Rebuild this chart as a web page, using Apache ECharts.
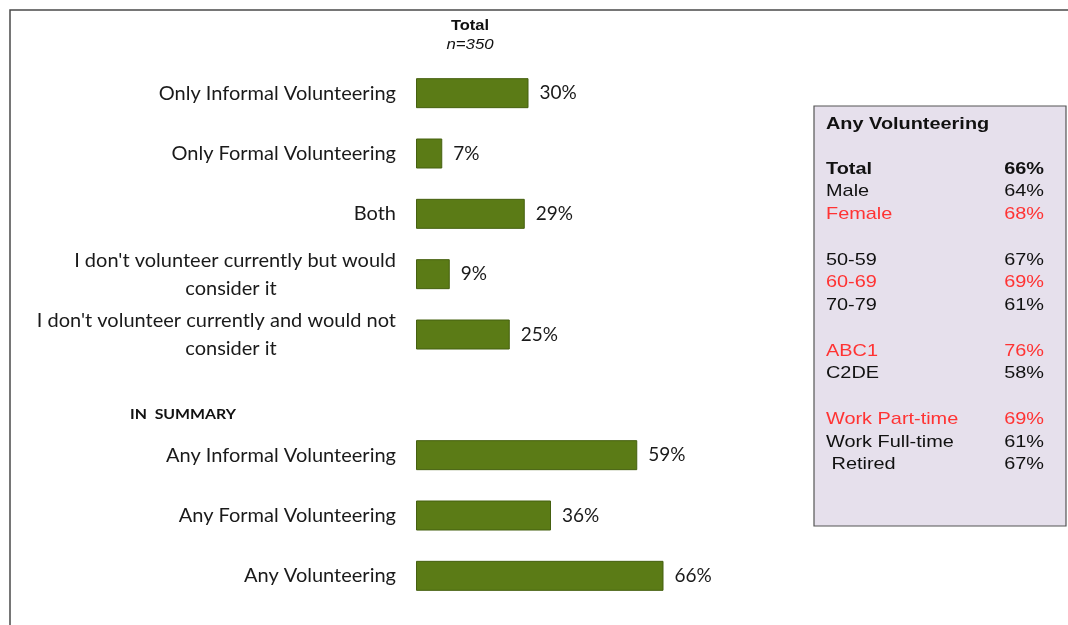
<!DOCTYPE html>
<html>
<head>
<meta charset="utf-8">
<script src="https://cdn.jsdelivr.net/npm/echarts@6/dist/echarts.min.js"></script>
<style>
  html, body { margin: 0; padding: 0; background: #ffffff; }
  #chart { width: 1068px; height: 625px; }
</style>
</head>
<body>
<div id="chart"></div>
<script>
// Survey categories (empty string = spacer row before the summary block)
const categories = [
  'Only Informal Volunteering',
  'Only Formal Volunteering',
  'Both',
  "I don't volunteer currently but would\nconsider it",
  "I don't volunteer currently and would not\nconsider it",
  '',
  'Any Informal Volunteering',
  'Any Formal Volunteering',
  'Any Volunteering'
];
const totals = [30, 7, 29, 9, 25, null, 59, 36, 66];

// Side panel: breakdown of "Any Volunteering"
const panelTitle = 'Any Volunteering';
const panelLabels = ['Total', 'Male', 'Female', '', '50-59', '60-69', '70-79', '', 'ABC1', 'C2DE', '', 'Work Part-time', 'Work Full-time', ' Retired'];
const panelValues = ['66%', '64%', '68%', '', '67%', '69%', '61%', '', '76%', '58%', '', '69%', '61%', '67%'];
const panelHighlight = [false, false, true, false, false, true, false, false, true, false, false, true, false, false];

const chart = echarts.init(document.getElementById('chart'));

// Two-line labels: second line centred under the first, block right-aligned
function catLabel(v) {
  if (!v) return '';
  const parts = v.split('\n');
  if (parts.length === 1) return v;
  const second = parts[0].length > 38 ? 'c' : 'b';
  return '{a|' + parts[0] + '}\n{' + second + '|' + parts[1] + '}';
}

// Wide-set text helper (panel and headings use a stretched face)
function wideText(x, y, text, font, fill, align, sx) {
  return {
    type: 'text', x: x, y: y, z: 5, scaleX: sx, originX: 0, originY: 0,
    style: { text: text, font: font, fill: fill, align: align, verticalAlign: 'middle' }
  };
}

const graphics = [];
// outer frame
graphics.push({
  type: 'rect', x: 10, y: 10, z: 0,
  shape: { x: 0, y: 0, width: 1100, height: 700 },
  style: { fill: 'none', stroke: '#4a4a4a', lineWidth: 1.5 }
});
// column header
graphics.push(wideText(470, 26, 'Total', 'bold 15px "Liberation Sans Narrow", "Liberation Sans", sans-serif', '#111', 'center', 1.1));
graphics.push(wideText(470, 45, 'n=350', 'italic 14px "Liberation Sans Narrow", "Liberation Sans", sans-serif', '#111', 'center', 1.2));
// summary heading
graphics.push(wideText(130, 415, 'IN  SUMMARY', 'bold 13px Lato, sans-serif', '#111', 'left', 1.22));
// side panel
graphics.push({
  type: 'rect', x: 814, y: 106, z: 1,
  shape: { x: 0, y: 0, width: 252, height: 420 },
  style: { fill: '#e6e0ec', stroke: '#555555', lineWidth: 1.2 }
});
const SX = 1.17;
graphics.push(wideText(826, 124, panelTitle, 'bold 17px "Liberation Sans", Arial, sans-serif', '#111', 'left', SX));
const rowStep = 22.75;
panelLabels.forEach((lab, i) => {
  if (!lab) return;
  const y = 169 + i * rowStep;
  const bold = i === 0;
  const col = panelHighlight[i] ? '#ff3333' : '#111';
  const font = (bold ? 'bold ' : '') + '17px "Liberation Sans", Arial, sans-serif';
  graphics.push(wideText(826, y, lab, font, col, 'left', SX));
  graphics.push(wideText(1044, y, panelValues[i], font, col, 'right', SX));
});

const labelFont = { fontSize: 20, fontFamily: 'Lato, sans-serif', color: '#1a1a1a', lineHeight: 28 };

chart.setOption({
  animation: false,
  grid: { left: 416, width: 375, top: 63, height: 543 },
  xAxis: { type: 'value', min: 0, max: 100, show: false },
  yAxis: {
    type: 'category',
    data: categories,
    inverse: true,
    axisLine: { show: false },
    axisTick: { show: false },
    splitLine: { show: false },
    axisLabel: Object.assign({
      margin: 20,
      formatter: catLabel,
      rich: {
        a: Object.assign({}, labelFont),
        b: Object.assign({ width: 330, align: 'center' }, labelFont),
        c: Object.assign({ width: 330, align: 'center', padding: [0, 0, 0, 30] }, labelFont)
      }
    }, labelFont)
  },
  series: [{
    type: 'bar',
    data: totals,
    barWidth: 30,
    itemStyle: { color: '#5b7b16', borderColor: '#45600f', borderWidth: 1 },
    label: {
      show: true,
      position: 'right',
      distance: 11,
      formatter: '{c}%',
      color: '#1a1a1a',
      fontSize: 19,
      fontFamily: 'Lato, sans-serif'
    }
  }],
  graphic: graphics
});
</script>
</body>
</html>
